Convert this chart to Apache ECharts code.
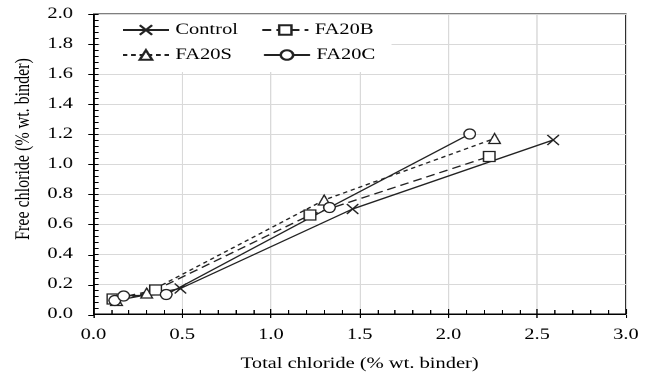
<!DOCTYPE html>
<html>
<head>
<meta charset="utf-8">
<script src="https://cdn.jsdelivr.net/npm/echarts@6/dist/echarts.min.js"></script>
<style>
  html, body { margin: 0; padding: 0; background: #fff; overflow: hidden; }
  /* the source figure is stretched ~1.28x horizontally — draw narrow, then stretch */
  #c { width: 505px; height: 377px; transform: scaleX(1.28); transform-origin: 0 0; }
</style>
</head>
<body>
<div id="c"></div>
<script>
const SERIF = "Liberation Serif";
const INK = "#222";

// values (total chloride, free chloride) — % wt. binder
const controlX = [0.13, 0.49, 1.46, 2.59];
const controlY = [0.09, 0.17, 0.70, 1.16];
const fa20bX = [0.11, 0.35, 1.22, 2.23];
const fa20bY = [0.10, 0.16, 0.66, 1.05];
const fa20sX = [0.13, 0.30, 1.30, 2.26];
const fa20sY = [0.09, 0.14, 0.76, 1.17];
const fa20cX = [0.12, 0.17, 0.41, 1.33, 2.12];
const fa20cY = [0.09, 0.12, 0.13, 0.71, 1.20];

const xTicks = { min: 0, max: 3, interval: 0.5 };
const yTicks = { min: 0, max: 2, interval: 0.2 };

const pairs = (xs, ys) => xs.map((x, i) => [x, ys[i]]);

const CROSS = "path://M0,0L10,10M10,0L0,10";

function line(name, data, symbol, dash) {
  return {
    name,
    type: "line",
    data,
    symbol,
    symbolSize: [9, 10],
    showSymbol: true,
    silent: true,
    lineStyle: { color: INK, width: 1.3, type: dash },
    itemStyle: {
      color: symbol === CROSS ? "rgba(0,0,0,0)" : "#fff",
      borderColor: INK,
      borderWidth: 1.2,
    },
    emphasis: { disabled: true },
    z: 3,
  };
}

// canvas at 2x backing store so the CSS stretch stays sharp
const chart = echarts.init(document.getElementById("c"), null, { renderer: "canvas", devicePixelRatio: 2 });

const gridBox = { left: 73, right: 16, top: 14, bottom: 62 };
const label = { color: "#000", fontFamily: SERIF, fontSize: 16, fontWeight: "normal" };

chart.setOption({
  animation: false,
  backgroundColor: "#fff",
  textStyle: { fontFamily: SERIF },
  grid: [
    { ...gridBox, show: true, borderColor: "#000", borderWidth: 1, backgroundColor: "transparent" },
    { ...gridBox, show: false },
  ],
  legend: [
    {
      data: ["Control", "FA20B"],
      left: 78, top: 15,
      padding: [7, 14, 34, 17],
      itemGap: 18, itemWidth: 36, itemHeight: 12,
      backgroundColor: "#fff",
      textStyle: label,
      selectedMode: false,
      z: 4,
    },
    {
      data: ["FA20S", "FA20C"],
      left: 78, top: 47,
      padding: [0, 0, 0, 17],
      itemGap: 24, itemWidth: 36, itemHeight: 12,
      textStyle: label,
      selectedMode: false,
      z: 5,
    },
  ],
  xAxis: [
    {
      type: "value", gridIndex: 0, ...xTicks,
      name: "Total chloride (% wt. binder)",
      nameLocation: "middle", nameGap: 42,
      nameTextStyle: label,
      axisLine: { lineStyle: { color: "#000", width: 1 } },
      axisTick: { inside: true, length: 5, lineStyle: { color: "#000" } },
      minorTick: { show: true, splitNumber: 5, length: 4, lineStyle: { color: "#000" } },
      axisLabel: { ...label, margin: 13, formatter: (v) => v.toFixed(1) },
      splitLine: { show: true, lineStyle: { color: "#d9d9d9", width: 1 } },
    },
    {
      type: "value", gridIndex: 1, ...xTicks,
      axisLine: { show: false },
      axisTick: { inside: false, length: 3, lineStyle: { color: "#000" } },
      axisLabel: { show: false },
      splitLine: { show: false },
    },
  ],
  yAxis: [
    {
      type: "value", gridIndex: 0, ...yTicks,
      name: "Free chloride (% wt. binder)",
      nameLocation: "middle", nameGap: 43,
      nameTextStyle: { ...label, padding: [0, 0, 0, 30] },
      axisLine: { show: true, lineStyle: { color: "#000", width: 1 } },
      axisTick: { inside: true, length: 4, lineStyle: { color: "#000" } },
      minorTick: { show: true, splitNumber: 5, length: 4, lineStyle: { color: "#000" } },
      axisLabel: { ...label, margin: 16, formatter: (v) => v.toFixed(1) },
      splitLine: { show: true, lineStyle: { color: "#d9d9d9", width: 1 } },
    },
    {
      type: "value", gridIndex: 1, ...yTicks,
      axisLine: { show: false },
      axisTick: { show: true, inside: false, length: 4, lineStyle: { color: "#000" } },
      axisLabel: { show: false },
      splitLine: { show: false },
    },
  ],
  series: [
    line("Control", pairs(controlX, controlY), CROSS, "solid"),
    line("FA20B", pairs(fa20bX, fa20bY), "rect", [7, 4]),
    line("FA20S", pairs(fa20sX, fa20sY), "triangle", [3.5, 3]),
    line("FA20C", pairs(fa20cX, fa20cY), "circle", "solid"),
  ],
});
</script>
</body>
</html>
